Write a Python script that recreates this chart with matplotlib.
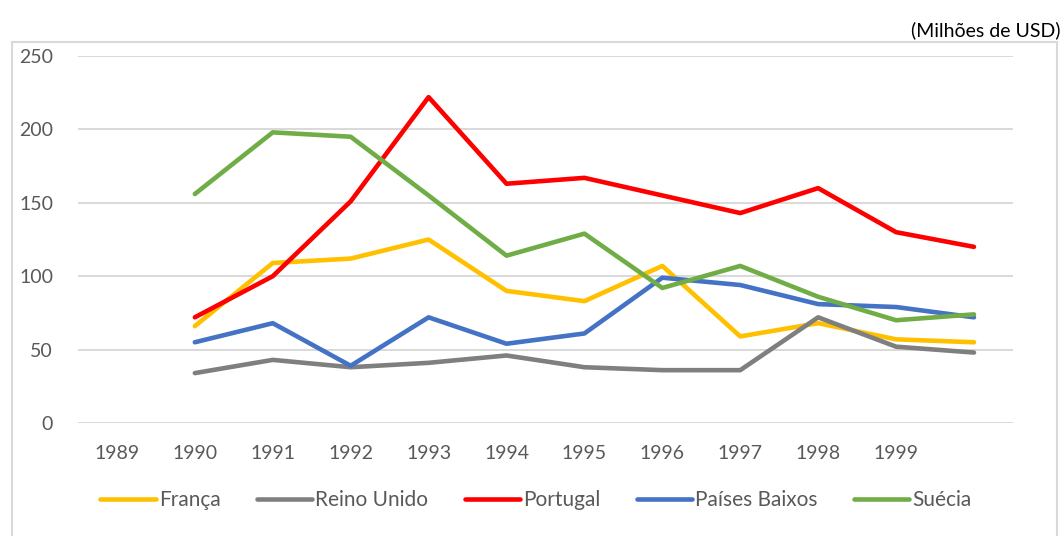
# -*- coding: utf-8 -*-
"""
Investimento por país, 1990-2000 (Milhões de USD) — gráfico de linhas.
"""
import numpy as np
import matplotlib
matplotlib.use("Agg")
import matplotlib.pyplot as plt
from matplotlib.patches import Rectangle

plt.rcParams["font.family"] = ["Lato", "DejaVu Sans"]

# rótulos do eixo x (o gráfico original tem 12 categorias, a última sem rótulo)
rotulos_x = ["1989", "1990", "1991", "1992", "1993", "1994",
             "1995", "1996", "1997", "1998", "1999", ""]

# séries (11 valores, a partir da 2.ª categoria)
franca = [66, 109, 112, 125, 90, 83, 107, 59, 68, 57, 55]
reino_unido = [34, 43, 38, 41, 46, 38, 36, 36, 72, 52, 48]
portugal = [72, 100, 151, 222, 163, 167, 155, 143, 160, 130, 120]
paises_baixos = [55, 68, 39, 72, 54, 61, 99, 94, 81, 79, 72]
suecia = [156, 198, 195, 155, 114, 129, 92, 107, 86, 70, 74]

series = [
    ("França", franca, "#FFC000"),
    ("Reino Unido", reino_unido, "#7F7F7F"),
    ("Portugal", portugal, "#FF0000"),
    ("Países Baixos", paises_baixos, "#4472C4"),
    ("Suécia", suecia, "#70AD47"),
]

fig = plt.figure(figsize=(10.64, 5.36), dpi=100)
ax = fig.add_axes([0.0733, 0.2108, 0.8787, 0.6847])

pos = np.arange(len(rotulos_x))
for nome, vals, cor in series:
    ax.plot(pos[1:1 + len(vals)], vals, color=cor, lw=3.3,
            solid_capstyle="round", solid_joinstyle="round", label=nome)

ax.set_xlim(-0.5, len(rotulos_x) - 0.5)
ax.set_ylim(0, 250)
ax.set_yticks(range(0, 251, 50))
ax.set_xticks(pos)
ax.set_xticklabels(rotulos_x)
ax.tick_params(axis="both", length=0, labelsize=14, colors="#595959")
ax.tick_params(axis="x", pad=16)
ax.tick_params(axis="y", pad=18)
ax.grid(axis="y", color="#D9D9D9", lw=1.4)
ax.set_axisbelow(True)
for s in ax.spines.values():
    s.set_visible(False)

leg = ax.legend(loc="center", bbox_to_anchor=(0.49, -0.21), ncol=5,
                frameon=False, fontsize=15, handlelength=2.65,
                handletextpad=0.15, columnspacing=1.75)
for t in leg.get_texts():
    t.set_color("#595959")

# moldura exterior do gráfico
fig.patches.append(Rectangle((12 / 1064, -0.01), 1045 / 1064, 494 / 536 + 0.01,
                             transform=fig.transFigure, fill=False,
                             edgecolor="#D9D9D9", lw=1.5))
fig.text(0.997, 0.944, "(Milhões de USD)", ha="right", va="center",
         fontsize=14, color="#000000")

fig.savefig("out.png", dpi=100)
